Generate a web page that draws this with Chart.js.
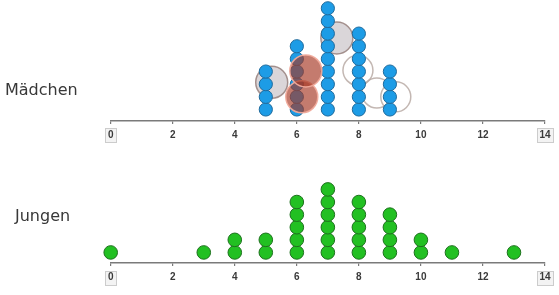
<!DOCTYPE html>
<html>
<head>
<meta charset="utf-8">
<script src="https://cdn.jsdelivr.net/npm/chart.js@4"></script>
<style>
  html, body { margin: 0; padding: 0; background: #ffffff; }
  body { width: 559px; height: 295px; position: relative; overflow: hidden; }
  .wrap { position: absolute; left: 0; width: 559px; }
  .lbl { position: absolute; font-family: "DejaVu Sans", sans-serif; font-size: 16px; color: #383838; line-height: 1; }
</style>
</head>
<body>
<div class="wrap" style="top:0;height:150px"><canvas id="c1" width="559" height="150"></canvas></div>
<div class="wrap" style="top:150px;height:145px"><canvas id="c2" width="559" height="145"></canvas></div>
<div class="lbl" style="left:5px;top:82px">Mädchen</div>
<div class="lbl" style="left:15px;top:208px">Jungen</div>
<script>
// ---- data ----
const tickLabels = [0, 2, 4, 6, 8, 10, 12, 14];
const maedchenValues = [5, 6, 7, 8, 9];
const maedchenCounts = [4, 6, 9, 7, 4];
const jungenValues = [0, 3, 4, 5, 6, 7, 8, 9, 10, 11, 13];
const jungenCounts = [1, 1, 2, 2, 5, 6, 5, 4, 2, 1, 1];
// overlay circles in the Mädchen plot: [value, stack level]
const greyCircles = [[5.19, 3.15], [7.29, 6.65]];
const redCircles = [[6.16, 2.0], [6.29, 4.05]];
const whiteCircles = [[7.97, 4.1], [8.58, 2.3], [9.19, 2.0]];

function stackPoints(values, counts) {
  const pts = [];
  values.forEach((v, i) => { for (let k = 1; k <= counts[i]; k++) pts.push({ x: v, y: k }); });
  return pts;
}
const toPts = arr => arr.map(p => ({ x: p[0], y: p[1] }));

const boxPlugin = {
  id: 'endBoxes',
  beforeDraw(chart) {
    const s = chart.scales.x;
    const ctx = chart.ctx;
    ctx.save();
    ctx.font = 'bold 10px "Liberation Sans", Arial, sans-serif';
    [0, 14].forEach(v => {
      const px = s.getPixelForValue(v);
      const w = ctx.measureText(String(v)).width + 5;
      const cy = s.top + 3 + chart.options.scales.x.ticks.padding + 6;
      ctx.fillStyle = '#f3f3f3';
      ctx.strokeStyle = '#cccccc';
      ctx.lineWidth = 1;
      const rx = Math.round(px - w / 2) + 0.5, ry = Math.round(cy - 7) + 0.5;
      ctx.fillRect(rx, ry, Math.round(w), 14);
      ctx.strokeRect(rx, ry, Math.round(w), 14);
    });
    ctx.restore();
  }
};

function xScale(pad) {
  return {
    type: 'linear', min: 0, max: 14,
    afterBuildTicks: s => { s.ticks = tickLabels.map(v => ({ value: v })); },
    grid: { drawOnChartArea: false, drawTicks: true, tickLength: 3, color: '#7a7a7a', lineWidth: 1.2 },
    border: { display: true, color: '#7a7a7a', width: 1.5 },
    ticks: { padding: pad, color: '#3a3a3a', font: { family: '"Liberation Sans", Arial, sans-serif', size: 10, weight: 'bold' }, maxRotation: 0, autoSkip: false }
  };
}

const common = {
  responsive: false, animation: false,
  plugins: { legend: { display: false }, tooltip: { enabled: false } },
  events: []
};

new Chart(document.getElementById('c1'), {
  type: 'scatter',
  data: {
    datasets: [
      { data: toPts(redCircles), pointRadius: 16, backgroundColor: 'rgba(165,55,35,0.66)', borderColor: 'rgba(240,170,155,0.95)', borderWidth: 1.5, clip: false },
      { data: stackPoints(maedchenValues, maedchenCounts), pointRadius: 6.6, backgroundColor: '#1d9ce6', borderColor: '#1f6a9c', borderWidth: 1, clip: false },
      { data: toPts(greyCircles), pointRadius: 16, backgroundColor: 'rgba(214,210,213,0.9)', borderColor: 'rgba(150,128,125,0.85)', borderWidth: 1.5, clip: false },
      { data: toPts(whiteCircles), pointRadius: 15, backgroundColor: 'rgba(255,255,255,0)', borderColor: 'rgba(185,170,165,0.85)', borderWidth: 1.5, clip: false }
    ]
  },
  options: Object.assign({}, common, {
    layout: { autoPadding: false, padding: { left: 110.7, right: 14, top: 0, bottom: 4 } },
    scales: {
      x: xScale(5),
      y: { type: 'linear', display: false, min: 0.09, max: 9.656 }
    }
  }),
  plugins: [boxPlugin]
});

new Chart(document.getElementById('c2'), {
  type: 'scatter',
  data: {
    datasets: [
      { data: stackPoints(jungenValues, jungenCounts), pointRadius: 6.8, backgroundColor: '#22c022', borderColor: '#1d701d', borderWidth: 1, clip: false }
    ]
  },
  options: Object.assign({}, common, {
    layout: { autoPadding: false, padding: { left: 110.7, right: 14, top: 20, bottom: 6 } },
    scales: {
      x: xScale(5.5),
      y: { type: 'linear', display: false, min: 0.163, max: 7.54 }
    }
  }),
  plugins: [boxPlugin]
});
</script>
</body>
</html>
